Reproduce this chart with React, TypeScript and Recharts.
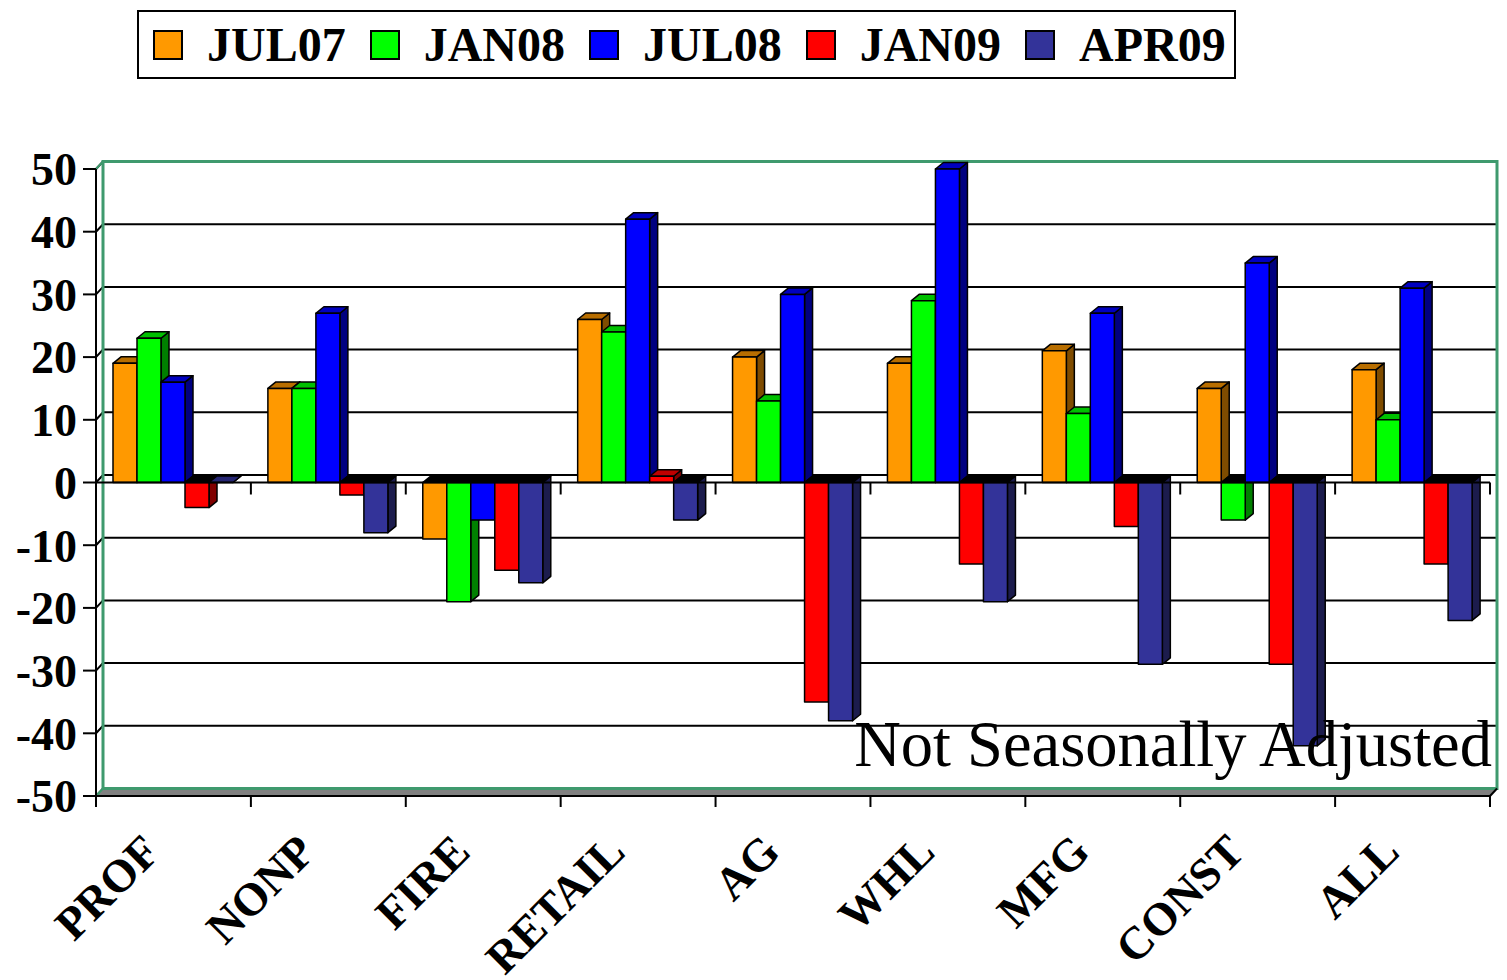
import {
  BarChart,
  Bar,
  XAxis,
  YAxis,
  CartesianGrid,
  Legend,
  ReferenceArea,
  ReferenceLine,
} from 'recharts';

const CATEGORIES = ['PROF', 'NONP', 'FIRE', 'RETAIL', 'AG', 'WHL', 'MFG', 'CONST', 'ALL'];
const JUL07 = [19, 15, -9, 26, 20, 19, 21, 15, 18];
const JAN08 = [23, 15, -19, 24, 13, 29, 11, -6, 10];
const JUL08 = [16, 27, -6, 42, 30, 50, 27, 35, 31];
const JAN09 = [-4, -2, -14, 1, -35, -13, -7, -29, -13];
const APR09 = [0, -8, -16, -6, -38, -19, -29, -42, -22];
const Y_TICKS = [-50, -40, -30, -20, -10, 0, 10, 20, 30, 40, 50];
const NOTE = 'Not Seasonally Adjusted';

const SERIES = [
  { key: 'JUL07', values: JUL07, front: '#ff9900', top: '#b86e00', side: '#7f4c00' },
  { key: 'JAN08', values: JAN08, front: '#00ff00', top: '#00c000', side: '#008000' },
  { key: 'JUL08', values: JUL08, front: '#0000ff', top: '#0000c0', side: '#000080' },
  { key: 'JAN09', values: JAN09, front: '#ff0000', top: '#c00000', side: '#800000' },
  { key: 'APR09', values: APR09, front: '#333399', top: '#262673', side: '#1c1c4d' },
];
const SERIES_ORDER = SERIES.map((s) => s.key);

const data = CATEGORIES.map((cat, i) => {
  const row: Record<string, string | number> = { cat };
  SERIES.forEach((s) => { row[s.key] = s.values[i]; });
  return row;
});

const SERIF = "'Liberation Serif', 'Times New Roman', serif";
const W = 1507;
const H = 980;
const LEFT = 96;
const RIGHT = 1490;
const BAND = (RIGHT - LEFT) / CATEGORIES.length;
// depth of the back wall and of the bars
const WDX = 7;
const WDY = -7.5;
const BDX = 8;
const BDY = -6.5;
const WALL_GREEN = '#3f9a6e';

function Bar3D(props: any) {
  const { x, y, width, height, val, s } = props;
  if (x == null || y == null || width == null) return null;
  const h = height || 0;
  const top = Math.min(y, y + h);
  const bot = Math.max(y, y + h);
  const r = x + width;
  const neg = val < 0;
  const topFace = `${x},${top} ${x + BDX},${top + BDY} ${r + BDX},${top + BDY} ${r},${top}`;
  const side = `${r},${top} ${r + BDX},${top + BDY} ${r + BDX},${bot + BDY} ${r},${bot}`;
  return (
    <g stroke="#000" strokeWidth={1.5} strokeLinejoin="round">
      <polygon points={side} fill={s.side} />
      <polygon points={topFace} fill={neg ? '#000' : s.top} />
      {bot - top > 0 && <rect x={x} y={top} width={width} height={bot - top} fill={s.front} />}
    </g>
  );
}

function BackLine(props: any) {
  const { x1, x2, y1 } = props;
  return (
    <polyline
      key={props.key}
      points={`${x1},${y1} ${x1 + WDX},${y1 + WDY} ${x2 + WDX},${y1 + WDY}`}
      fill="none"
      stroke="#000"
      strokeWidth={2}
    />
  );
}

function Wall(props: any) {
  const { x, y, width, height } = props;
  const b = y + height;
  const r = x + width;
  return (
    <g>
      <polygon
        points={`${x},${b} ${x + WDX},${b + WDY} ${r + WDX},${b + WDY} ${r},${b}`}
        fill="#808080"
        stroke="none"
      />
      <rect x={x + WDX} y={y + WDY} width={width} height={height} fill="none" stroke={WALL_GREEN} strokeWidth={3} />
      <line x1={x} y1={y} x2={x + WDX} y2={y + WDY} stroke={WALL_GREEN} strokeWidth={2} />
      <line x1={x} y1={b} x2={x + WDX} y2={b + WDY} stroke={WALL_GREEN} strokeWidth={2} />
      <line x1={r} y1={b} x2={r + WDX} y2={b + WDY} stroke="#000" strokeWidth={2} />
    </g>
  );
}

function ZeroLine(props: any) {
  const { x1, x2, y1 } = props;
  const ticks = [];
  for (let i = 1; i <= CATEGORIES.length; i++) {
    const tx = x1 + BAND * i;
    ticks.push(<line key={i} x1={tx} y1={y1} x2={tx} y2={y1 + 12} stroke="#000" strokeWidth={2} />);
  }
  return (
    <g>
      <line x1={x1} y1={y1} x2={x2} y2={y1} stroke="#000" strokeWidth={2} />
      {ticks}
    </g>
  );
}

function CatTick(props: any) {
  const { x, y, payload, index } = props;
  const left = x - BAND / 2;
  const ax = x - 11;
  const ay = y + 58;
  return (
    <g>
      <line x1={left} y1={y} x2={left} y2={y + 11} stroke="#000" strokeWidth={2} />
      {index === CATEGORIES.length - 1 && (
        <line x1={x + BAND / 2} y1={y} x2={x + BAND / 2} y2={y + 11} stroke="#000" strokeWidth={2} />
      )}
      <text
        x={ax}
        y={ay}
        transform={`rotate(-45 ${ax} ${ay})`}
        textAnchor="end"
        fontFamily={SERIF}
        fontWeight="bold"
        fontSize={46}
        fill="#000"
      >
        {payload.value}
      </text>
    </g>
  );
}

function LegendBox(props: any) {
  const items = [...(props.payload || [])].sort(
    (a: any, b: any) => SERIES_ORDER.indexOf(a.value) - SERIES_ORDER.indexOf(b.value),
  );
  return (
    <div
      style={{
        display: 'flex',
        alignItems: 'center',
        boxSizing: 'border-box',
        width: 1099,
        height: 69,
        border: '2px solid #000',
        paddingLeft: 14,
        background: '#fff',
      }}
    >
      {items.map((it: any) => (
        <div key={it.value} style={{ display: 'flex', alignItems: 'center', marginRight: 24 }}>
          <div
            style={{
              width: 30,
              height: 30,
              boxSizing: 'border-box',
              border: '2px solid #000',
              background: it.color,
              marginRight: 24,
            }}
          />
          <span style={{ fontFamily: SERIF, fontWeight: 'bold', fontSize: 48, lineHeight: 1, color: '#000' }}>
            {it.value}
          </span>
        </div>
      ))}
    </div>
  );
}

export default function App() {
  return (
    <div style={{ position: 'absolute', left: 0, top: 0, width: W, height: H, background: '#fff' }}>
      <BarChart
        width={W}
        height={H}
        data={data}
        margin={{ top: 169, right: W - RIGHT, bottom: 0, left: 0 }}
        barCategoryGap={17}
        barGap={0}
      >
        <CartesianGrid vertical={false} horizontal={(p: any) => <BackLine {...p} />} />
        <ReferenceArea y1={-50} y2={50} shape={(p: any) => <Wall {...p} />} ifOverflow="visible" />
        <ReferenceLine y={0} shape={(p: any) => <ZeroLine {...p} />} ifOverflow="visible" />
        <XAxis
          dataKey="cat"
          height={H - 169 - 627}
          axisLine={{ stroke: '#000', strokeWidth: 2 }}
          tickLine={false}
          tickSize={0}
          tickMargin={0}
          interval={0}
          tick={(p: any) => <CatTick {...p} />}
        />
        <YAxis
          width={LEFT}
          domain={[-50, 50]}
          ticks={Y_TICKS}
          interval={0}
          axisLine={{ stroke: '#000', strokeWidth: 2 }}
          tickLine={{ stroke: '#000', strokeWidth: 2 }}
          tickSize={13}
          tickMargin={6}
          tick={{ fill: '#000', fontSize: 46, fontWeight: 'bold', fontFamily: SERIF }}
        />
        <Legend
          layout="horizontal"
          verticalAlign="middle"
          wrapperStyle={{ top: 10, left: 137, width: 1099 }}
          content={(p: any) => <LegendBox {...p} />}
        />
        {SERIES.map((s) => (
          <Bar
            key={s.key}
            dataKey={s.key}
            name={s.key}
            fill={s.front}
            isAnimationActive={false}
            shape={(p: any) => <Bar3D {...p} val={p.payload[s.key]} s={s} />}
          />
        ))}
      </BarChart>
      <svg width={W} height={H} style={{ position: 'absolute', left: 0, top: 0, pointerEvents: 'none' }}>
        <text x={1492} y={766} textAnchor="end" fontFamily={SERIF} fontSize={64.5} fill="#000">
          {NOTE}
        </text>
      </svg>
    </div>
  );
}
